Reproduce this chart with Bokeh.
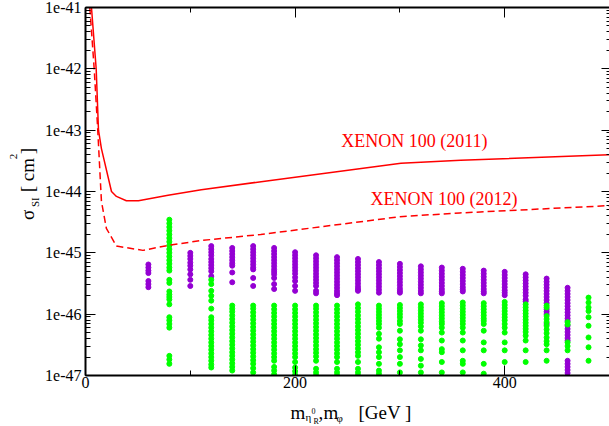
import math
from bokeh.plotting import figure
from bokeh.layouts import row, column
from bokeh.models import (LogAxis, LinearAxis, FixedTicker, LogTicker, Label,
                          CustomJSTickFormatter, Range1d)
from bokeh.embed import file_html
from bokeh.resources import INLINE

# ---------------- data ----------------
# XENON100 (2011) limit, solid (mass in GeV, log10 sigma)
x2011 = [5.7, 10.2, 12.4, 15.2, 24.8, 29.5, 39.0, 50.5, 78.8, 110.5, 167.6, 301.0, 358.0, 500.0]
lg2011 = [-41.0, -42.0, -43.0, -43.30, -44.0, -44.08, -44.15, -44.15, -44.06, -43.97, -43.84, -43.54, -43.49, -43.40]
# XENON100 (2012) limit, dashed
x2012 = [4.1, 8.3, 11.7, 15.2, 19.9, 29.5, 54.8, 78.6, 110.2, 167.2, 278.0, 300.0, 357.0, 500.0]
lg2012 = [-41.0, -42.0, -43.0, -44.16, -44.60, -44.89, -44.96, -44.88, -44.80, -44.70, -44.46, -44.41, -44.35, -44.23]

# scan points: violet (eta_R^0) and green (phi); log10 sigma per mass column
V60 = [-45.19, -45.24, -45.29, -45.33, -45.46, -45.51, -45.56]
V100 = [-45.00, -45.05, -45.10, -45.16, -45.21, -45.27, -45.35, -45.44, -45.54]
V120 = [-44.89, -44.94, -44.99, -45.04, -45.10, -45.15, -45.20, -45.25, -45.30, -45.38]
V140 = [-44.92, -44.97, -45.02, -45.07, -45.12, -45.17, -45.21, -45.32, -45.48]
V160 = [-44.89, -44.94, -44.99, -45.04, -45.09, -45.14, -45.19, -45.24, -45.27, -45.41, -45.54]
V180 = [-44.92, -44.97, -45.02, -45.07, -45.12, -45.17, -45.22, -45.27, -45.31, -45.35, -45.41, -45.51, -45.59]
V200 = [-44.99, -45.04, -45.09, -45.14, -45.19, -45.24, -45.29, -45.34, -45.40, -45.46, -45.54, -45.62]
V220 = [-45.04, -45.09, -45.14, -45.19, -45.24, -45.29, -45.34, -45.39, -45.44, -45.49, -45.54, -45.62, -45.66]
V240 = [-45.07, -45.12, -45.17, -45.22, -45.27, -45.32, -45.37, -45.42, -45.47, -45.52, -45.57, -45.62, -45.66, -45.69]
V260 = [-45.10, -45.15, -45.20, -45.25, -45.30, -45.35, -45.40, -45.45, -45.50, -45.55, -45.59, -45.62]
V280 = [-45.15, -45.20, -45.25, -45.30, -45.35, -45.40, -45.45, -45.50, -45.55, -45.60, -45.65]
V300 = [-45.18, -45.23, -45.28, -45.33, -45.38, -45.43, -45.48, -45.53, -45.58, -45.62, -45.65]
V320 = [-45.22, -45.27, -45.32, -45.37, -45.42, -45.47, -45.52, -45.57, -45.62, -45.66]
V340 = [-45.24, -45.29, -45.34, -45.39, -45.44, -45.49, -45.54, -45.59, -45.63, -45.66]
V360 = [-45.26, -45.31, -45.36, -45.41, -45.46, -45.51, -45.56, -45.60, -45.63]
V380 = [-45.29, -45.34, -45.39, -45.44, -45.49, -45.54, -45.59, -45.63, -45.66]
V400 = [-45.31, -45.36, -45.41, -45.46, -45.51, -45.56, -45.61, -45.65, -45.69]
V420 = [-45.35, -45.40, -45.45, -45.50, -45.55, -45.60, -45.65, -45.70, -45.76, -45.79]
V440 = [-45.42, -45.47, -45.52, -45.57, -45.62, -45.67, -45.72, -45.77, -45.82, -45.92, -45.96, -46.00, -46.16]
V460 = [-45.57, -45.62, -45.67, -45.72, -45.77, -45.82, -45.87, -45.92, -45.97, -46.02, -46.07, -46.11,
        -46.19, -46.24, -46.29, -46.34, -46.39, -46.43, -46.76, -46.81, -46.86, -46.91, -46.96, -47.01, -47.06]

G80 = [-44.46, -44.52, -44.58, -44.64, -44.70, -44.76, -44.82, -44.88, -44.94, -45.00, -45.06, -45.12,
       -45.18, -45.24, -45.29, -45.44, -45.49, -45.63, -45.68, -45.72, -45.76, -45.84, -46.05, -46.10,
       -46.16, -46.22, -46.68, -46.74, -46.81]
G120 = [-45.44, -45.51, -45.62, -45.70, -45.78, -45.91, -46.05, -46.10, -46.16, -46.22, -46.28, -46.34,
        -46.40, -46.46, -46.52, -46.58, -46.64, -46.70, -46.76, -46.82, -46.87]
G140 = [-45.86, -45.91, -45.96, -46.02, -46.08, -46.14, -46.20, -46.26, -46.32, -46.38, -46.44, -46.50,
        -46.56, -46.62, -46.68, -46.74, -46.80, -46.86, -46.92]
G160 = [-45.86, -45.91, -45.97, -46.03, -46.09, -46.15, -46.21, -46.27, -46.33, -46.39, -46.45, -46.51,
        -46.57, -46.63, -46.69, -46.75, -46.81, -46.88, -46.95]
G180 = [-45.86, -45.92, -45.98, -46.04, -46.10, -46.16, -46.22, -46.28, -46.34, -46.40, -46.46, -46.52,
        -46.58, -46.64, -46.70, -46.76, -46.86, -46.92, -46.98]
G200 = [-45.86, -45.92, -45.98, -46.04, -46.10, -46.16, -46.22, -46.28, -46.34, -46.40, -46.46, -46.52,
        -46.58, -46.64, -46.70, -46.78, -46.87, -46.93, -46.99]
G220 = [-45.86, -45.91, -45.97, -46.03, -46.09, -46.15, -46.21, -46.27, -46.33, -46.39, -46.45, -46.51,
        -46.57, -46.63, -46.69, -46.76, -46.89, -46.95, -47.00]
G240 = [-45.86, -45.92, -45.98, -46.04, -46.10, -46.16, -46.22, -46.28, -46.34, -46.40, -46.46, -46.52,
        -46.58, -46.64, -46.70, -46.78, -46.89, -46.95, -47.00]
G260 = [-45.84, -45.90, -45.96, -46.02, -46.08, -46.14, -46.20, -46.26, -46.32, -46.38, -46.44, -46.50,
        -46.56, -46.62, -46.68, -46.78, -46.89, -46.95, -47.00]
G280 = [-45.86, -45.91, -45.96, -46.01, -46.06, -46.11, -46.16, -46.22, -46.32, -46.40, -46.54, -46.62,
        -46.70, -46.81, -46.92, -46.97]
G300 = [-45.85, -45.90, -45.95, -46.00, -46.05, -46.11, -46.16, -46.27, -46.41, -46.49, -46.59, -46.70,
        -46.81, -46.95]
G320 = [-45.84, -45.89, -45.94, -45.99, -46.04, -46.09, -46.14, -46.20, -46.27, -46.41, -46.51, -46.59,
        -46.73, -46.84, -46.95]
G340 = [-45.82, -45.87, -45.92, -45.97, -46.02, -46.07, -46.12, -46.16, -46.22, -46.30, -46.43, -46.57,
        -46.62, -46.78, -46.95]
G360 = [-45.81, -45.86, -45.91, -45.96, -46.01, -46.06, -46.11, -46.16, -46.22, -46.30, -46.43, -46.59,
        -46.76, -46.81, -46.95]
G380 = [-45.82, -45.87, -45.92, -45.97, -46.02, -46.07, -46.11, -46.16, -46.27, -46.46, -46.59, -46.81, -46.97]
G400 = [-45.80, -45.85, -45.90, -45.95, -46.00, -46.05, -46.10, -46.16, -46.22, -46.30, -46.46, -46.59, -46.78]
G420 = [-45.84, -45.89, -45.94, -45.99, -46.04, -46.09, -46.14, -46.19, -46.24, -46.29, -46.35, -46.43,
        -46.59, -46.78]
G440 = [-45.86, -45.89, -46.03, -46.08, -46.13, -46.19, -46.25, -46.31, -46.38, -46.44, -46.49, -46.59, -46.76]
G460 = [-46.13, -46.17, -46.46, -46.52, -46.59]
G480 = [-45.73, -45.81, -45.89, -45.95, -46.05, -46.19, -46.38, -46.54, -46.76]

violet_cols = [(60, V60), (100, V100), (120, V120), (140, V140), (160, V160), (180, V180),
               (200, V200), (220, V220), (240, V240), (260, V260), (280, V280), (300, V300),
               (320, V320), (340, V340), (360, V360), (380, V380), (400, V400), (420, V420),
               (440, V440), (460, V460)]
green_cols = [(80, G80), (120, G120), (140, G140), (160, G160), (180, G180), (200, G200),
              (220, G220), (240, G240), (260, G260), (280, G280), (300, G300), (320, G320),
              (340, G340), (360, G360), (380, G380), (400, G400), (420, G420), (440, G440),
              (460, G460), (480, G480)]

x_ticks = [0, 200, 400]
x_minor = [100, 300, 500]

SERIF = "Liberation Serif"

# ---------------- layout geometry ----------------
W, H = 609, 426
LEFT_W = 42          # strip holding the y title
MAIN_H = 395         # main figure height; strip below holds the x title
FL, FT, FB = 84, 7, 375

p = figure(width=W - LEFT_W, height=MAIN_H, x_range=Range1d(0, 500), y_range=Range1d(1e-47, 1e-41),
           y_axis_type="log", output_backend="svg", toolbar_location=None,
           min_border_left=FL - LEFT_W, min_border_right=0, min_border_top=FT,
           min_border_bottom=MAIN_H - FB)
p.grid.visible = False
p.outline_line_color = None
p.background_fill_color = "white"
p.border_fill_color = "white"

def flat(cols):
    xs, ys = [], []
    for m, vals in cols:
        for v in vals:
            xs.append(m)
            ys.append(10 ** v)
    return xs, ys

vx, vy = flat(violet_cols)
gx, gy = flat(green_cols)
p.scatter(vx, vy, marker="circle", size=5, fill_color="#9400d3", line_color="#9400d3")
p.scatter(gx, gy, marker="circle", size=5, fill_color="#00ff00", line_color="#00ff00")

p.line(x2011, [10 ** v for v in lg2011], line_color="#ff0000", line_width=1.5)
p.line(x2012, [10 ** v for v in lg2012], line_color="#ff0000", line_width=1.5, line_dash="7 4")

# axes
xt = FixedTicker(ticks=x_ticks, minor_ticks=x_minor)
yt = LogTicker(num_minor_ticks=10)

xa = p.xaxis[0]
xa.ticker = xt
xa.major_label_text_font = SERIF
xa.major_label_text_font_size = "16px"
xa.major_label_text_color = "black"
xa.major_label_standoff = 1
xa.major_tick_in = 10
xa.major_tick_out = 0
xa.minor_tick_in = 5
xa.minor_tick_out = 0
xa.axis_line_width = 2
xa.axis_line_color = "black"

ya = p.yaxis[0]
ya.ticker = yt
ya.formatter = CustomJSTickFormatter(code="return '1e' + Math.round(Math.log10(tick));")
ya.major_label_text_font = SERIF
ya.major_label_text_font_size = "16px"
ya.major_label_text_color = "black"
ya.major_label_standoff = 4
ya.major_tick_in = 10
ya.major_tick_out = 0
ya.minor_tick_in = 5
ya.minor_tick_out = 0
ya.axis_line_width = 2
ya.axis_line_color = "black"

top = LinearAxis(ticker=xt, major_label_text_font_size="0px", major_label_standoff=0,
                 major_tick_in=10, major_tick_out=0, minor_tick_in=5, minor_tick_out=0,
                 axis_line_width=2, axis_line_color="black",
                 formatter=CustomJSTickFormatter(code="return '';"))
p.add_layout(top, "above")
right = LogAxis(ticker=yt, major_label_text_font_size="0px", major_label_standoff=0,
                major_tick_in=8, major_tick_out=0, minor_tick_in=3, minor_tick_out=0,
                axis_line_color=None,
                formatter=CustomJSTickFormatter(code="return '';"))
p.add_layout(right, "right")

# curve labels (data coordinates)
p.add_layout(Label(x=244, y=10 ** -43.18, text="XENON 100 (2011)", text_font=SERIF,
                   text_font_size="18px", text_color="#ff0000", text_baseline="alphabetic"))
p.add_layout(Label(x=272, y=10 ** -44.12, text="XENON 100 (2012)", text_font=SERIF,
                   text_font_size="18px", text_color="#ff0000", text_baseline="alphabetic"))

# ---------------- title strips (pixel-unit figures) ----------------
def strip(w, h):
    f = figure(width=w, height=h, x_range=Range1d(0, w), y_range=Range1d(0, h),
               output_backend="svg", toolbar_location=None,
               x_axis_location=None, y_axis_location=None,
               min_border=0, min_border_left=0, min_border_right=0,
               min_border_top=0, min_border_bottom=0)
    f.grid.visible = False
    f.outline_line_color = None
    f.background_fill_color = "white"
    f.border_fill_color = "white"
    return f

ystrip = strip(LEFT_W, MAIN_H)
xstrip = strip(W, H - MAIN_H)

def xlab(cx, cy, text, size):
    # (cx, cy): page pixel position of the baseline start
    xstrip.add_layout(Label(x=cx, y=xstrip.height - (cy - MAIN_H), text=text,
                            text_font=SERIF, text_font_size=size, text_color="black",
                            text_align="left", text_baseline="alphabetic"))

def ylab(cx, cy, text, size):
    # (cx, cy): page pixel position of the centre of the rotated text
    ystrip.add_layout(Label(x=cx, y=MAIN_H - cy, text=text, angle=math.pi / 2,
                            text_font=SERIF, text_font_size=size, text_color="black",
                            text_align="center", text_baseline="middle"))

# x title: m_{eta^0_R}, m_phi [GeV ]
xlab(290, 412, "m", "19px")
xlab(305, 416, "η", "11px")
xlab(311, 410, "0", "8px")
xlab(313, 421, "R", "8px")
xlab(318, 412, ",", "19px")
xlab(323, 412, "m", "19px")
xlab(336, 417, "φ", "11px")
xlab(358, 412, "[GeV ]", "19px")

# y title: sigma_SI [ cm^2 ]
ylab(26.5, 222.5, "σ", "19px")
ylab(34.3, 209.0, "SI", "11px")
ylab(26.5, 180.0, "[ cm", "19px")
ylab(13.3, 160.0, "2", "11px")
ylab(26.5, 154.0, "]", "19px")

layout = column(row(ystrip, p, spacing=0), xstrip, spacing=0)

open("out.html", "w").write(file_html(layout, INLINE))
